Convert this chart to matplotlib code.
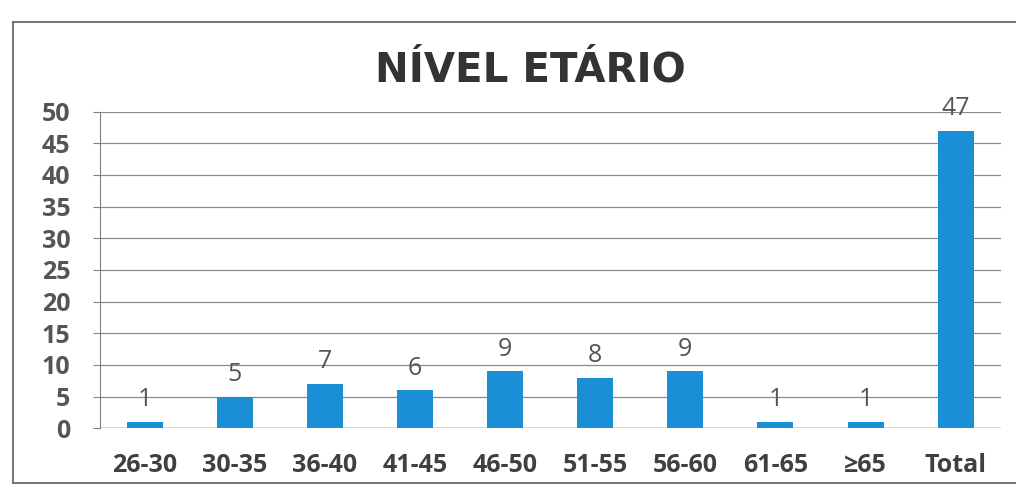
import matplotlib
matplotlib.use('Agg')
import matplotlib.pyplot as plt
from matplotlib.lines import Line2D

plt.rcParams['font.family'] = ['Open Sans', 'DejaVu Sans']

faixas = ['26-30', '30-35', '36-40', '41-45', '46-50', '51-55', '56-60', '61-65', '≥65', 'Total']
quantidade = [1, 5, 7, 6, 9, 8, 9, 1, 1, 47]
y_ticks = [0, 5, 10, 15, 20, 25, 30, 35, 40, 45, 50]

AZUL = '#1a8fd6'
CINZA_TXT = '#555555'

fig = plt.figure(figsize=(10.16, 4.98), dpi=100)
ax = fig.add_axes([0.098, 0.14, 0.887, 0.636])

x = range(len(faixas))
bars = ax.bar(x, quantidade, width=0.4, color=AZUL, zorder=3)
for b, v in zip(bars, quantidade):
    ax.text(b.get_x() + b.get_width() / 2, v + 1.5, str(v), ha='center', va='bottom',
            fontsize=18, color=CINZA_TXT, zorder=4)

ax.set_xlim(-0.5, len(faixas) - 0.5)
ax.set_ylim(0, 50)
ax.set_yticks(y_ticks)
ax.set_yticklabels([str(t) for t in y_ticks], fontsize=18, color=CINZA_TXT, fontweight='bold')
ax.set_xticks(list(x))
ax.set_xticklabels(faixas, fontsize=18, color='#404040', fontweight='bold')
ax.tick_params(axis='y', length=5, color='#808080', pad=16)
ax.tick_params(axis='x', length=0, pad=18)
ax.grid(axis='y', color='#8a8a8a', lw=0.9, zorder=0)
for s in ['top', 'right', 'bottom']:
    ax.spines[s].set_visible(False)
ax.spines['left'].set_color('#808080')
ax.axhline(0, color='#808080', lw=1.0, zorder=2)

fig.text(0.522, 0.858, 'NÍVEL ETÁRIO', ha='center', va='center', fontsize=29,
         fontweight='bold', color='#333333', family='DejaVu Sans')

# moldura do gráfico (lado direito fica fora da área)
moldura = dict(color='#6a6a6a', lw=1.3, transform=fig.transFigure)
fig.add_artist(Line2D([0.013, 1.0], [0.955, 0.955], **moldura))
fig.add_artist(Line2D([0.013, 0.013], [0.03, 0.955], **moldura))
fig.add_artist(Line2D([0.013, 1.0], [0.03, 0.03], **moldura))

fig.savefig('out.png', dpi=100)
